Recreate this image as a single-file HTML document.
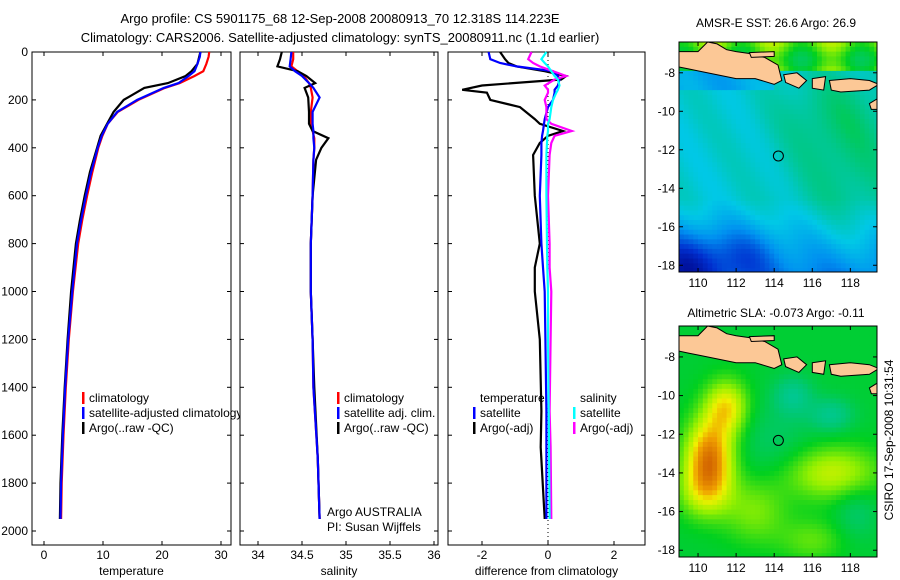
<!DOCTYPE html>
<html><head><meta charset="utf-8"><style>
body{margin:0;background:#fff}
svg{display:block;font-family:"Liberation Sans",sans-serif}
text{font-size:12px;fill:#000}
</style></head><body>
<svg id="s" width="900" height="580" viewBox="0 0 900 580">
<text x="340" y="23" text-anchor="middle" style="font-size:13px">Argo profile: CS 5901175_68 12-Sep-2008 20080913_70 12.318S 114.223E</text>
<text x="340" y="42" text-anchor="middle" style="font-size:13px">Climatology: CARS2006. Satellite-adjusted climatology: synTS_20080911.nc (1.1d earlier)</text>
<text x="776" y="27" text-anchor="middle">AMSR-E SST: 26.6 Argo: 26.9</text>
<text x="776" y="317" text-anchor="middle">Altimetric SLA: -0.073 Argo: -0.11</text>
<text transform="translate(893,440) rotate(-90)" text-anchor="middle">CSIRO 17-Sep-2008 10:31:54</text>
<g id="g"></g>
</svg>
<script>
// ---- profile data ----
const tDepth = [0,20,50,80,100,130,150,200,250,300,350,400,500,600,700,800,1000,1200,1400,1600,1800,1950];
const tClim  = [28,27.9,27.5,27,25.5,23,20.5,16,12.5,10.8,9.9,9.2,8.2,7.3,6.5,5.8,4.9,4.2,3.7,3.3,3.0,2.9];
const tSat   = [26.5,26.4,26,25.5,24.5,22.8,20.3,15.8,12.4,10.8,9.8,9.1,8.0,7.1,6.3,5.6,4.8,4.1,3.6,3.2,2.9,2.8];
const tArgo  = [26.5,26.3,26,25,24,21,17,13.5,11.8,10.7,9.6,9.0,7.8,6.9,6.1,5.4,4.6,4.0,3.5,3.1,2.8,2.7];
const sDepth = [0,30,60,80,100,130,150,190,250,300,330,360,400,450,600,800,1000,1200,1400,1700,1950];
const sClim  = [34.40,34.40,34.38,34.45,34.52,34.58,34.60,34.62,34.60,34.60,34.62,34.64,34.64,34.63,34.62,34.6,34.6,34.62,34.63,34.68,34.70];
const sSat   = [34.38,34.37,34.36,34.42,34.50,34.58,34.63,34.70,34.62,34.62,34.63,34.63,34.64,34.63,34.62,34.6,34.6,34.62,34.63,34.68,34.70];
const sArgo  = [34.27,34.25,34.22,34.45,34.55,34.65,34.53,34.57,34.58,34.58,34.62,34.80,34.72,34.66,34.62,34.6,34.6,34.62,34.64,34.68,34.70];
const dDepth = [0,30,46,60,80,100,115,140,158,170,200,230,280,300,330,350,380,430,600,800,900,1000,1200,1500,1650,1950];
const dTArgo = [-1.45,-1.3,-1.2,-0.95,-0.1,0.55,0.4,-2.0,-2.6,-1.85,-1.75,-0.85,-0.4,-0.25,0.45,0,-0.25,-0.45,-0.4,-0.25,-0.4,-0.4,-0.25,-0.2,-0.22,-0.1];
const dTSat  = [-1.8,-1.75,-1.45,-0.95,0.15,0.3,0.35,0.3,0.2,0.2,0.15,0.0,-0.1,-0.12,-0.15,-0.18,-0.2,-0.2,-0.25,-0.2,-0.15,-0.1,-0.08,-0.05,-0.05,-0.05];
const dSArgo = [-0.5,-0.6,-0.45,-0.25,0.15,0.55,0.2,-0.1,0,0,-0.1,-0.05,-0.05,0.1,0.72,0.2,0.1,0.05,0,0.05,0.05,0.1,0.08,0.05,0.08,0.1];
const dSSat  = [-0.05,-0.2,-0.1,0,0.1,0.2,0.3,0.35,0.3,0.25,0.15,0.1,0.05,0,0,-0.02,-0.03,-0.05,-0.05,-0.03,-0.02,0,0,0.02,0.03,0.05];
const depthTicks = [0,200,400,600,800,1000,1200,1400,1600,1800,2000];
const tempTicks = [0,10,20,30];
const salTicks = [34,34.5,35,35.5,36];
const diffTicks = [-2,0,2];
const latTicks = [-8,-10,-12,-14,-16,-18];
const lonTicks = [110,112,114,116,118];

const NS="http://www.w3.org/2000/svg", G=document.getElementById('g');
function el(t,a,p){const e=document.createElementNS(NS,t);for(const k in a)e.setAttribute(k,a[k]);(p||G).appendChild(e);return e;}
const BOT=545;
const yD = d => 52 + d*0.2395;
const xT = v => 44 + v*5.9;
const xS = v => 258 + (v-34)*88;
const xDf = v => 548 + v*33;

function panel(name,x0,x1,xf,ticks,label,yl){
  const g=el('g',{});
  
  
  el('rect',{x:x0,y:52,width:x1-x0,height:BOT-52,fill:'#fff',stroke:'#000','stroke-width':1},g);
  ticks.forEach(t=>{const x=xf(t);
    el('line',{x1:x,x2:x,y1:BOT,y2:BOT-4,stroke:'#000'},g);
    el('line',{x1:x,x2:x,y1:52,y2:56,stroke:'#000'},g);
    const tx=el('text',{x:x,y:559,'text-anchor':'middle'},g);tx.textContent=t;
  });
  depthTicks.forEach(d=>{const y=yD(d);
    el('line',{x1:x0,x2:x0+4,y1:y,y2:y,stroke:'#000'},g);
    el('line',{x1:x1,x2:x1-4,y1:y,y2:y,stroke:'#000'},g);
    if(yl){const t=el('text',{x:28,y:y+4,'text-anchor':'end'},g);t.textContent=d;}
  });
  const lb=el('text',{x:(x0+x1)/2,y:575,'text-anchor':'middle'},g);lb.textContent=label;
  
  
  return g;
}
const p1=panel('temperature-panel',32,231,xT,tempTicks,'temperature',true);
const p2=panel('salinity-panel',240,438,xS,salTicks,'salinity',false);
const p3=panel('difference-panel',448,645,xDf,diffTicks,'difference from climatology',false);
el('line',{x1:xDf(0),x2:xDf(0),y1:52,y2:BOT,stroke:'#000','stroke-dasharray':'1,3'},p3);

function line(g,xs,ds,xf,color,name){
  const pts=xs.map((v,i)=>xf(v).toFixed(1)+','+yD(ds[i]).toFixed(1)).join(' ');
  const p=el('polyline',{points:pts,fill:'none',stroke:color,'stroke-width':2.2},g);
  
  
}
line(p1,tClim,tDepth,xT,'#f00','temp-climatology-line');
line(p1,tArgo,tDepth,xT,'#000','temp-argo-line');
line(p1,tSat,tDepth,xT,'#00f','temp-satellite-line');
line(p2,sClim,sDepth,xS,'#f00','sal-climatology-line');
line(p2,sArgo,sDepth,xS,'#000','sal-argo-line');
line(p2,sSat,sDepth,xS,'#00f','sal-satellite-line');
line(p3,dTArgo,dDepth,xDf,'#000','diff-temp-argo-line');
line(p3,dTSat,dDepth,xDf,'#00f','diff-temp-satellite-line');
line(p3,dSArgo,dDepth,xDf,'#f0f','diff-sal-argo-line');
line(p3,dSSat,dDepth,xDf,'#0ff','diff-sal-satellite-line');

function legend(g,x,y,items,name){
  const lg=el('g',{},g);
  
  
  items.forEach((it,i)=>{const yy=y+i*15;
    if(it[1])el('rect',{x:x,y:yy-10,width:2.5,height:12,fill:it[1]},lg);
    const t=el('text',{x:x+7,y:yy},lg);t.textContent=it[0];
  });
}
legend(p1,82,402,[['climatology','#f00'],['satellite-adjusted climatology','#00f'],['Argo(..raw -QC)','#000']],'temp-legend');
legend(p2,337,402,[['climatology','#f00'],['satellite adj. clim.','#00f'],['Argo(..raw -QC)','#000']],'sal-legend');
legend(p3,473,402,[['temperature',null],['satellite','#00f'],['Argo(-adj)','#000']],'diff-temp-legend');
legend(p3,573,402,[['salinity',null],['satellite','#0ff'],['Argo(-adj)','#f0f']],'diff-sal-legend');
let t=el('text',{x:327,y:516},p2);t.textContent='Argo AUSTRALIA';
t=el('text',{x:327,y:531},p2);t.textContent='PI: Susan Wijffels';

// ---- maps ----
const stops=[[0,[0,0,128]],[0.15,[0,48,208]],[0.3,[0,144,240]],[0.42,[0,200,230]],[0.5,[0,200,176]],[0.6,[0,200,112]],[0.68,[0,208,32]],[0.78,[150,240,0]],[0.86,[240,240,0]],[0.92,[240,160,0]],[1,[208,96,0]]];
function cmap(v){v=Math.max(0,Math.min(1,v));for(let i=1;i<stops.length;i++){if(v<=stops[i][0]){const a=stops[i-1],b=stops[i],f=(v-a[0])/(b[0]-a[0]);return 'rgb('+a[1].map((c,k)=>Math.round(c+(b[1][k]-c)*f)).join(',')+')';}}return 'rgb(208,96,0)';}
const gb=(x,y,cx,cy,sx,sy)=>Math.exp(-((x-cx)**2/(2*sx*sx)+(y-cy)**2/(2*sy*sy)));
function sst(lon,lat){
  if(lat>-8.0) return 0.72+0.06*Math.sin(lon*2)+0.04*Math.cos(lat*3);
  let v=0.45+0.12*gb(lon,lat,118,-12.5,2.2,3)+0.06*gb(lon,lat,116.5,-10,2,1.5)+0.03*Math.sin(lon*1.7+lat);
  if(lat<-14.5) v-= (-14.5-lat)*0.045;
  v-=0.2*gb(lon,lat,109.3,-18,1.5,1.2)+0.1*gb(lon,lat,112.5,-17.5,1.2,1);
  if(lat>-9 && lon<114) v-=0.1;
  return v;
}
function sla(lon,lat){
  let v=0.66-0.1*gb(lon,lat,115,-10,0.7,0.7)-0.1*gb(lon,lat,117,-11,0.8,0.6)-0.05*gb(lon,lat,114,-12.5,1.5,1.5);
  v+=0.3*gb(lon,lat,110.6,-13.2,0.9,1.4)+0.2*gb(lon,lat,111.5,-10.6,0.8,1.0)+0.12*gb(lon,lat,110.3,-15,1,1);
  v+=0.16*gb(lon,lat,117,-14,1.8,1)-0.06*gb(lon,lat,118.3,-16,0.8,1);
  v+=0.1*gb(lon,lat,113,-16,1.2,1.2)+0.08*gb(lon,lat,116,-17.5,1.2,0.8);
  return v;
}
const land=[
[[109,-6.9],[110,-6.9],[110.5,-6.4],[111,-6.5],[111.5,-6.8],[112,-6.9],[112.7,-7],[113,-7.1],[113.5,-7.2],[114.2,-7.6],[114.4,-8.4],[114,-8.6],[113,-8.3],[112,-8.3],[111,-8.1],[110,-7.9],[109.5,-7.8],[109,-7.7]],
[[112.7,-6.95],[114,-6.9],[114,-7.15],[112.8,-7.2]],
[[114.5,-8.1],[115.2,-8.0],[115.7,-8.4],[115.3,-8.8],[114.6,-8.5]],
[[116,-8.3],[116.7,-8.2],[116.6,-8.9],[116.0,-8.8]],
[[116.9,-8.4],[118,-8.3],[119,-8.4],[119.5,-8.6],[119,-8.9],[117.5,-9.0],[117,-8.9]],
[[119,-9.6],[119.5,-9.3],[119.6,-9.9],[119.1,-9.9]]];
function map(name,top,bot,latTop,fn){
  const X0=679,X1=877,lon0=109,lon1=119.4,latBot=-18.35;
  const px=l=>X0+(l-lon0)/(lon1-lon0)*(X1-X0), py=l=>top+(latTop-l)/(latTop-latBot)*(bot-top);
  const g=el('g',{});
  
  
  const cid='c'+name;const cp=el('clipPath',{id:cid},g);el('rect',{x:X0,y:top,width:X1-X0,height:bot-top},cp);
  const gg=el('g',{'clip-path':'url(#'+cid+')'},g);
  const step=0.25;
  for(let lo=lon0;lo<lon1;lo+=step)for(let la=latTop;la>latBot;la-=step){
    el('rect',{x:px(lo).toFixed(1),y:py(la).toFixed(1),width:(px(lo+step)-px(lo)+0.6).toFixed(1),height:(py(la-step)-py(la)+0.6).toFixed(1),fill:cmap(fn(lo+step/2,la-step/2))},gg);}
  land.forEach(poly=>{el('polygon',{points:poly.map(p=>px(p[0]).toFixed(1)+','+py(p[1]).toFixed(1)).join(' '),fill:'#fcc896',stroke:'#000','stroke-width':1},gg);});
  el('circle',{cx:px(114.22),cy:py(-12.32),r:5,fill:'none',stroke:'#000'},gg);
  el('rect',{x:X0,y:top,width:X1-X0,height:bot-top,fill:'none',stroke:'#000'},g);
  latTicks.forEach(l=>{const y=py(l);el('line',{x1:X0,x2:X0+4,y1:y,y2:y,stroke:'#000'},g);el('line',{x1:X1,x2:X1-4,y1:y,y2:y,stroke:'#000'},g);
    const t=el('text',{x:X0-4,y:y+4,'text-anchor':'end'},g);t.textContent=l;});
  lonTicks.forEach(l=>{const x=px(l);el('line',{x1:x,x2:x,y1:bot,y2:bot-4,stroke:'#000'},g);el('line',{x1:x,x2:x,y1:top,y2:top+4,stroke:'#000'},g);
    const t=el('text',{x:x,y:bot+15,'text-anchor':'middle'},g);t.textContent=l;});
}
map('sst-map',42,272,-6.4,sst);
map('sla-map',326,557,-6.4,sla);
</script>
</body></html>
